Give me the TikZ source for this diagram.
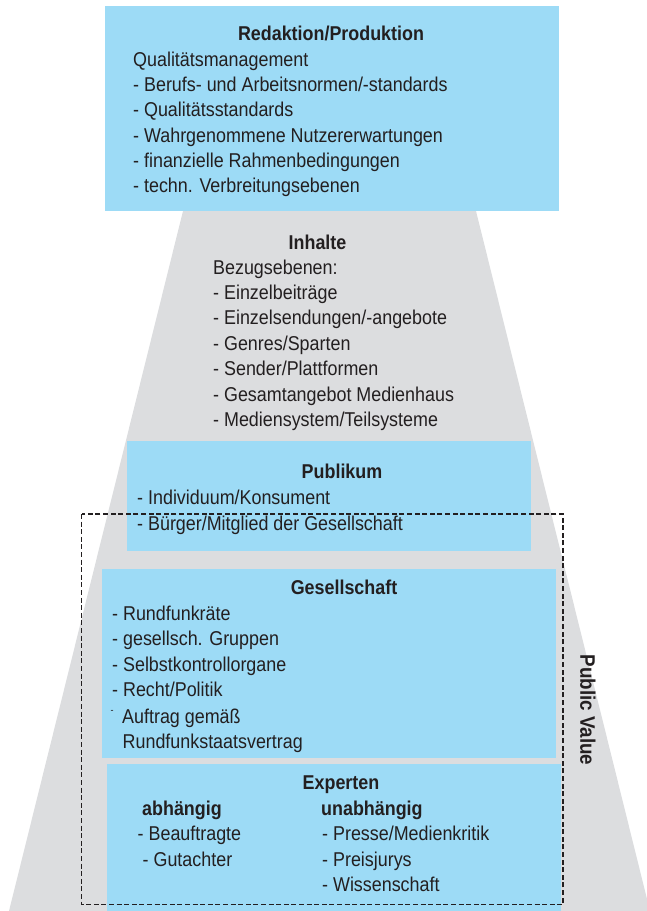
\documentclass[tikz,border=0pt]{standalone}
\usepackage{fontspec}
\setmainfont{Liberation Sans}[FakeStretch=0.895]
\definecolor{boxblue}{HTML}{9DDBF6}
\definecolor{trapgray}{HTML}{DCDDDF}
\definecolor{ink}{HTML}{231F20}
\tikzset{
  bluebox/.style={fill=boxblue, draw=none},
  txt/.style={anchor=base west, inner sep=0pt, text=ink, font=\fontsize{20}{20}\selectfont},
  ttl/.style={anchor=base, inner sep=0pt, text=ink, font=\bfseries\fontsize{20}{20}\selectfont},
  subttl/.style={anchor=base west, inner sep=0pt, text=ink, font=\bfseries\fontsize{20}{20}\selectfont},
  pvframe/.style={draw=ink, line width=1.25pt, dash pattern=on 5pt off 2.6pt},
}
\begin{document}
\begin{tikzpicture}[x=1pt,y=-1pt]
\useasboundingbox (0,0) rectangle (646,911);
% grey trapezoid
\fill[trapgray] (183,211) -- (476,211) -- (650,911) -- (9,911) -- cycle;
% top box
\fill[bluebox] (105,6) rectangle (559,211);
\node[ttl] (redt) at (331,40) {Redaktion/Produktion};
\foreach \t [count=\i] in {Qualitätsmanagement,- Berufs- und Arbeitsnormen/-standards,- Qualitätsstandards,- Wahrgenommene Nutzererwartungen,- finanzielle Rahmenbedingungen,- techn. Verbreitungsebenen}
  \node[txt, name=red\i] at (133,{66+25.35*(\i-1)}) {\t};
% Inhalte
\node[ttl] (inht) at (317.5,249) {Inhalte};
\foreach \t [count=\i] in {Bezugsebenen:,- Einzelbeiträge,- Einzelsendungen/-angebote,- Genres/Sparten,- Sender/Plattformen,- Gesamtangebot Medienhaus,- Mediensystem/Teilsysteme}
  \node[txt, name=inh\i] at (213,{274+25.45*(\i-1)}) {\t};
% Publikum
\fill[bluebox] (127,441) rectangle (531,551);
\node[ttl] (pubt) at (342,478) {Publikum};
\node[txt] (pub1) at (137,504.5) {- Individuum/Konsument};
\node[txt] (pub2) at (137,530) {- Bürger/Mitglied der Gesellschaft};
% Gesellschaft
\fill[bluebox] (102,569) rectangle (556,758);
\node[ttl] (gest) at (344,594) {Gesellschaft};
\foreach \t [count=\i] in {- Rundfunkräte,- gesellsch. Gruppen,- Selbstkontrollorgane,- Recht/Politik}
  \node[txt, name=ges\i] at (112,{620+25.6*(\i-1)}) {\t};
\node[txt, font=\fontsize{10}{10}\selectfont] (gesdash) at (110.5,713.5) {-};
\node[txt] (ges5) at (122,723) {Auftrag gemäß};
\node[txt] (ges6) at (122.5,748.5) {Rundfunkstaatsvertrag};
% Experten
\fill[bluebox] (107,764) rectangle (561,911);
\node[ttl] (expt) at (341,789) {Experten};
\node[subttl] (abh) at (142,815) {abhängig};
\node[subttl] (unabh) at (321,815) {unabhängig};
\node[txt] (abh1) at (137.5,840.7) {- Beauftragte};
\node[txt] (abh2) at (142.5,866) {- Gutachter};
\node[txt] (una1) at (322,840.7) {- Presse/Medienkritik};
\node[txt] (una2) at (322,866) {- Preisjurys};
\node[txt] (una3) at (322,891.7) {- Wissenschaft};
% Public Value frame
\draw[pvframe] (81.5,514) rectangle (563,904.5);
\node[inner sep=0pt, text=ink, font=\bfseries\fontsize{21}{21}\selectfont, rotate=-90] (pv) at (588,710) {Public Value};
\end{tikzpicture}
\end{document}
